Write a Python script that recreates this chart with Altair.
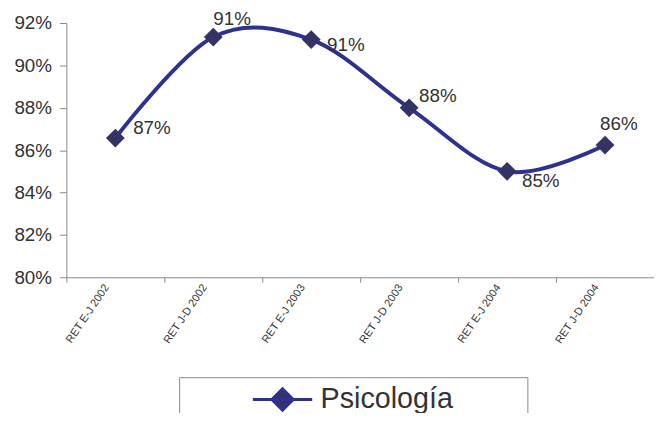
import altair as alt
import pandas as pd

categories = ["RET E-J 2002", "RET J-D 2002", "RET E-J 2003",
              "RET J-D 2003", "RET E-J 2004", "RET J-D 2004"]
values = [0.8657, 0.9134, 0.9122, 0.8800, 0.8500, 0.8624]
series_name = "Psicología"
y_ticks = [0.80, 0.82, 0.84, 0.86, 0.88, 0.90, 0.92]

df = pd.DataFrame({
    "periodo": categories,
    "valor": values,
    "serie": [series_name] * len(categories),
})

FONT = "Liberation Sans"
LINE_COLOR = "#2E3192"
MARKER_COLOR = "#333366"
TEXT_COLOR = "#333333"
AXIS_COLOR = "#8a8a8a"

x_enc = alt.X(
    "periodo:N", sort=categories, bandPosition=0.5,
    scale=alt.Scale(type="band", paddingInner=0, paddingOuter=0),
    axis=alt.Axis(title=None, tickBand="extent", labelAngle=-56,
                  labelAlign="right", labelBaseline="middle",
                  labelFontSize=11, labelFont=FONT, labelColor=TEXT_COLOR,
                  labelOffset=-9, labelPadding=3, tickSize=5,
                  domainColor=AXIS_COLOR, tickColor=AXIS_COLOR),
)
y_enc = alt.Y(
    "valor:Q",
    scale=alt.Scale(domain=[y_ticks[0], y_ticks[-1]], nice=False, zero=False),
    axis=alt.Axis(title=None, format=".0%", values=y_ticks, tickSize=7,
                  labelPadding=8, labelFontSize=19, labelFont=FONT,
                  labelColor=TEXT_COLOR, domainColor=AXIS_COLOR,
                  tickColor=AXIS_COLOR, grid=False),
)

base = alt.Chart(df)

line = base.mark_line(interpolate="cardinal", strokeWidth=4,
                      color=LINE_COLOR).encode(x=x_enc, y=y_enc)

legend_symbol = "M-2.5,0H2.5M0,-0.9L0.9,0L0,0.9L-0.9,0Z"

points = base.mark_point(shape="diamond", filled=True, size=360,
                         opacity=1).encode(
    x=x_enc, y=y_enc,
    color=alt.Color(
        "serie:N",
        scale=alt.Scale(range=[MARKER_COLOR]),
        legend=alt.Legend(
            title="\u00a0", titleOrient="right", titlePadding=67,
            titleFontSize=10,
            orient="none", legendX=114, legendY=358,
            strokeColor=AXIS_COLOR, padding=8,
            symbolType=legend_symbol, symbolSize=576,
            symbolStrokeColor=LINE_COLOR, symbolStrokeWidth=3,
            symbolOffset=82, labelOffset=24,
            labelFontSize=29, labelFont=FONT, labelColor=TEXT_COLOR,
            labelLimit=500,
        ),
    ),
)

# per-label offsets (dx, dy) approximating the reference placement
label_offsets = [(18, -10), (0, -18), (16, 6), (10, -12), (15, 10), (-5, -21)]
label_layers = []
for cat, (ox, oy) in zip(categories, label_offsets):
    label_layers.append(
        base.transform_filter(alt.datum.periodo == cat)
        .mark_text(align="left", baseline="middle", dx=ox, dy=oy,
                   fontSize=19, font=FONT, color=TEXT_COLOR)
        .encode(x=x_enc, y=y_enc, text=alt.Text("valor:Q", format=".0%"))
    )

chart = alt.layer(line, points, *label_layers).properties(
    width=594, height=257,
    autosize=alt.AutoSizeParams(type="none"),
    padding={"left": 59, "top": 13, "right": 0, "bottom": 135},
).configure_view(stroke=None)

chart.save("out.html", embed_options={"renderer": "svg", "actions": False})
